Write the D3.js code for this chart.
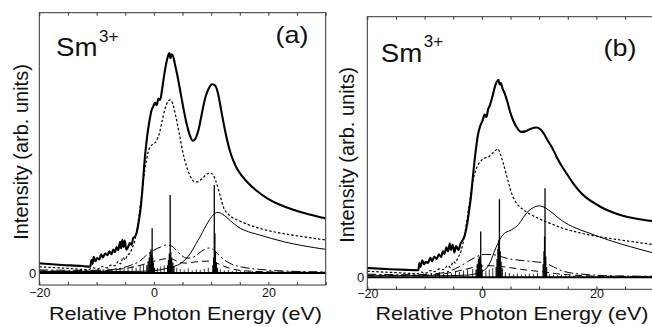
<!DOCTYPE html>
<html><head><meta charset="utf-8">
<script src="https://cdn.jsdelivr.net/npm/d3@7"></script>
<style>
html,body{margin:0;padding:0;background:#fff;}
svg{display:block;}
text{font-family:"Liberation Sans",Arial,Helvetica,sans-serif;fill:#111;}
</style></head>
<body>
<svg id="chart" width="652" height="327"></svg>
<script>
// ---------- data (energy in eV, intensity in arbitrary units) ----------
const xTicks = [-20,-15,-10,-5,0,5,10,15,20,25,30];
const xTickLabels = [-20, 0, 20];
const yTickLabels = [0];
const panelLabels = ["(a)", "(b)"];
const ionLabel = "Sm";
const ionCharge = "3+";
const xTitle = "Relative Photon Energy (eV)";
const yTitle = "Intensity (arb. units)";

const aTotal = [[-20,0.037],[-16,0.031],[-12.5,0.027],[-11.1,0.024],[-10.9,0.05],[-10.7,0.035],[-10.5,0.062],[-10.2,0.045],[-9.9,0.058],[-9.5,0.052],[-9.2,0.072],[-8.9,0.06],[-8.5,0.075],[-8.1,0.068],[-7.8,0.083],[-7.4,0.072],[-7.1,0.09],[-6.8,0.08],[-6.5,0.1],[-6.2,0.088],[-5.9,0.12],[-5.7,0.095],[-5.5,0.128],[-5.3,0.1],[-5.1,0.125],[-4.8,0.09],[-4.5,0.1],[-4.2,0.115],[-3.9,0.108],[-3.6,0.135],[-3.3,0.14],[-3.0,0.155],[-2.7,0.19],[-2.3,0.25],[-2.0,0.32],[-1.7,0.41],[-1.2,0.52],[-0.8,0.58],[-0.4,0.625],[-0.1,0.64],[0.2,0.655],[0.5,0.645],[0.8,0.67],[1.1,0.665],[1.4,0.7],[1.8,0.76],[2.2,0.81],[2.5,0.835],[2.7,0.845],[2.9,0.825],[3.1,0.84],[3.4,0.83],[3.7,0.8],[4.1,0.76],[4.6,0.7],[5.1,0.64],[5.7,0.575],[6.3,0.528],[6.8,0.508],[7.3,0.518],[7.8,0.55],[8.4,0.615],[9.0,0.675],[9.6,0.71],[10.2,0.725],[10.7,0.72],[11.2,0.69],[11.8,0.62],[12.5,0.54],[13.4,0.46],[14.3,0.41],[15.3,0.375],[16.5,0.345],[18,0.315],[19.8,0.287],[22,0.262],[24.5,0.242],[27,0.226],[30,0.21]];
const aDotted = [[-20,0.024],[-15,0.018],[-11.5,0.013],[-10.5,0.02],[-9.8,0.015],[-9,0.025],[-8.2,0.02],[-7.5,0.03],[-6.8,0.028],[-6.2,0.045],[-5.8,0.035],[-5.4,0.06],[-5.0,0.05],[-4.6,0.07],[-4.2,0.075],[-3.8,0.095],[-3.4,0.12],[-3.0,0.16],[-2.6,0.22],[-2.2,0.29],[-1.8,0.36],[-1.4,0.42],[-1.0,0.465],[-0.6,0.485],[-0.2,0.495],[0.2,0.5],[0.6,0.515],[1.0,0.54],[1.5,0.59],[2.0,0.635],[2.5,0.66],[2.9,0.665],[3.3,0.65],[3.8,0.605],[4.4,0.54],[5.0,0.47],[5.7,0.41],[6.4,0.37],[7.0,0.352],[7.6,0.35],[8.3,0.36],[9.0,0.375],[9.8,0.385],[10.4,0.375],[10.8,0.355],[11.6,0.295],[12.2,0.25],[13.2,0.222],[15,0.2],[17.5,0.178],[20,0.163],[23,0.15],[26.5,0.138],[30,0.127]];
const aThin = [[-20,0.006],[-10,0.006],[-4,0.006],[0,0.009],[2.3,0.018],[3.6,0.026],[4.7,0.037],[5.5,0.052],[6.4,0.076],[7.3,0.11],[8.1,0.14],[8.8,0.17],[9.5,0.197],[10.3,0.222],[11.2,0.233],[12,0.226],[12.8,0.212],[13.4,0.2],[15.1,0.172],[17,0.155],[18.5,0.146],[20.5,0.133],[22.7,0.12],[26,0.105],[30,0.091]];
const aDashDot = [[-20,0.012],[-12,0.01],[-8,0.012],[-5.5,0.02],[-4,0.03],[-2.5,0.045],[-1.2,0.07],[0,0.088],[1.2,0.1],[2.2,0.108],[3.0,0.105],[3.8,0.09],[4.8,0.068],[5.8,0.057],[6.8,0.06],[7.8,0.075],[8.8,0.09],[9.6,0.096],[10.4,0.09],[11.3,0.07],[12.2,0.052],[13.5,0.035],[15.1,0.024],[17.5,0.016],[20,0.011],[25,0.006],[30,0.004]];
const aDash = [[-20,0.008],[-12,0.007],[-8,0.01],[-5,0.018],[-3,0.026],[-1.5,0.035],[0,0.045],[1.5,0.053],[2.6,0.056],[3.6,0.05],[4.6,0.04],[5.8,0.038],[7,0.042],[8.4,0.045],[9.8,0.046],[10.8,0.04],[11.8,0.03],[13,0.02],[14.5,0.012],[17,0.007],[22,0.004],[30,0.003]];
const aSticks = [[-1.2,0.03],[-1.0,0.045],[-0.8,0.06],[-0.65,0.08],[-0.5,0.09],[-0.4,0.07],[-0.3,0.172],[-0.2,0.06],[-0.1,0.04],[0.1,0.02],[2.4,0.03],[2.55,0.05],[2.7,0.075],[2.85,0.3],[2.95,0.08],[3.1,0.06],[3.3,0.04],[3.5,0.025],[10.3,0.03],[10.45,0.06],[10.55,0.338],[10.65,0.153],[10.75,0.08],[10.9,0.04],[11.1,0.02]];
const aNoise = [[-10.8,0.012],[-10.1,0.008],[-9.4,0.015],[-8.7,0.01],[-8.0,0.018],[-7.3,0.012],[-6.6,0.02],[-5.9,0.015],[-5.2,0.022],[-4.5,0.018],[-3.8,0.025],[-3.1,0.02],[-2.4,0.028],[-1.8,0.03],[0.6,0.02],[1.2,0.025],[1.8,0.03],[4.0,0.02],[4.6,0.015],[5.3,0.012],[6.0,0.018],[6.7,0.01],[7.4,0.014],[8.1,0.012],[8.8,0.016],[9.5,0.02],[11.6,0.015],[12.3,0.01],[13.0,0.012],[13.7,0.008],[14.4,0.01],[15.1,0.007],[15.8,0.009],[16.5,0.006],[17.2,0.008],[18.0,0.005],[19.0,0.007],[20.0,0.005],[21.0,0.006],[22.0,0.004],[23.5,0.005],[25,0.004]];

const bTotal = [[-20,0.036],[-16,0.031],[-12.5,0.028],[-11.1,0.027],[-10.9,0.055],[-10.7,0.04],[-10.4,0.065],[-10.1,0.05],[-9.8,0.06],[-9.4,0.055],[-9.0,0.075],[-8.7,0.062],[-8.3,0.08],[-7.9,0.07],[-7.5,0.088],[-7.1,0.078],[-6.8,0.1],[-6.5,0.09],[-6.2,0.115],[-5.9,0.1],[-5.6,0.13],[-5.4,0.105],[-5.1,0.125],[-4.8,0.095],[-4.5,0.12],[-4.1,0.105],[-3.7,0.13],[-3.3,0.145],[-3.0,0.16],[-2.6,0.2],[-2.2,0.26],[-1.9,0.31],[-1.5,0.4],[-1.1,0.48],[-0.7,0.545],[-0.3,0.58],[0.1,0.6],[0.5,0.625],[0.8,0.615],[1.1,0.645],[1.4,0.66],[1.8,0.69],[2.2,0.725],[2.6,0.75],[2.9,0.758],[3.1,0.74],[3.3,0.745],[3.6,0.725],[4.0,0.705],[4.5,0.67],[5.0,0.63],[5.6,0.595],[6.2,0.572],[6.9,0.558],[7.6,0.56],[8.4,0.568],[9.1,0.574],[9.6,0.575],[10.2,0.568],[10.8,0.552],[11.5,0.525],[12.2,0.5],[13.1,0.46],[14,0.425],[15.2,0.385],[16.3,0.35],[17.5,0.32],[18.7,0.298],[20,0.28],[21.1,0.266],[22.8,0.25],[24.6,0.236],[27,0.225],[30,0.215]];
const bDotted = [[-20,0.023],[-15,0.018],[-11.2,0.014],[-10.5,0.02],[-9.8,0.016],[-9,0.026],[-8.2,0.022],[-7.4,0.032],[-6.6,0.03],[-6,0.045],[-5.5,0.038],[-5.0,0.06],[-4.6,0.055],[-4.2,0.075],[-3.8,0.09],[-3.4,0.12],[-3.0,0.165],[-2.6,0.22],[-2.2,0.28],[-1.8,0.34],[-1.4,0.385],[-1.0,0.415],[-0.5,0.438],[0,0.45],[0.4,0.457],[0.8,0.46],[1.2,0.462],[1.6,0.47],[1.9,0.477],[2.3,0.485],[2.8,0.493],[3.2,0.475],[3.7,0.44],[4.2,0.4],[4.7,0.36],[5.2,0.322],[5.8,0.293],[6.4,0.275],[7.2,0.26],[8.1,0.246],[9.5,0.23],[11,0.215],[12.5,0.202],[14,0.189],[16.3,0.175],[18.7,0.163],[21.5,0.152],[24.6,0.142],[27.5,0.133],[30,0.125]];
const bThin = [[-20,0.006],[-8,0.006],[-3,0.008],[-1,0.014],[0,0.022],[1.0,0.04],[1.6,0.065],[2.2,0.1],[2.8,0.13],[3.4,0.155],[4.0,0.17],[4.8,0.178],[5.6,0.188],[6.4,0.203],[7.2,0.228],[7.9,0.249],[8.6,0.262],[9.3,0.271],[10.0,0.274],[10.5,0.272],[11.2,0.265],[12,0.252],[12.7,0.24],[13.4,0.227],[14.5,0.21],[15.8,0.195],[17.2,0.182],[18.7,0.17],[20.5,0.155],[22.8,0.138],[26,0.117],[30,0.093]];
const bDashDot = [[-20,0.012],[-12,0.01],[-8,0.014],[-5.5,0.025],[-4,0.04],[-2.5,0.06],[-1.3,0.075],[-0.3,0.085],[0.6,0.088],[1.6,0.087],[2.6,0.085],[3.6,0.078],[4.5,0.072],[6,0.067],[8,0.062],[9.5,0.059],[11,0.055],[12.5,0.04],[14,0.025],[15.2,0.018],[17,0.013],[18.7,0.01],[22,0.006],[30,0.004]];
const bDash = [[-20,0.008],[-12,0.007],[-8,0.01],[-5,0.02],[-3,0.03],[-1.5,0.038],[0,0.043],[1,0.045],[2,0.044],[3.2,0.042],[5,0.037],[7,0.03],[9,0.025],[11,0.02],[13,0.014],[15,0.01],[18,0.006],[22,0.004],[30,0.003]];
const bSticks = [[-1.0,0.03],[-0.8,0.05],[-0.6,0.07],[-0.45,0.08],[-0.3,0.06],[-0.2,0.176],[-0.1,0.05],[0.05,0.03],[2.5,0.04],[2.65,0.07],[2.8,0.11],[2.95,0.144],[3.07,0.3],[3.2,0.1],[3.35,0.06],[3.55,0.035],[10.7,0.05],[10.85,0.1],[10.95,0.157],[11.03,0.342],[11.15,0.08],[11.3,0.04]];
const bNoise = [[-10.9,0.01],[-10.2,0.014],[-9.5,0.009],[-8.8,0.016],[-8.1,0.012],[-7.4,0.02],[-6.7,0.014],[-6.0,0.022],[-5.3,0.016],[-4.6,0.024],[-3.9,0.02],[-3.2,0.026],[-2.5,0.03],[-1.6,0.032],[0.7,0.025],[1.3,0.03],[1.9,0.035],[4.1,0.02],[4.8,0.016],[5.5,0.012],[6.2,0.015],[6.9,0.01],[7.6,0.012],[8.3,0.014],[9.0,0.012],[9.7,0.018],[11.8,0.012],[12.5,0.01],[13.2,0.008],[13.9,0.01],[14.6,0.007],[15.3,0.008],[16.0,0.006],[16.8,0.007],[17.6,0.005],[18.5,0.006],[19.5,0.005],[20.5,0.004],[22,0.005],[24,0.004]];

// ---------- layout ----------
const panels = [
  {id:"a", left:39.3, right:325.7, top:12.7, bottom:285, label:panelLabels[0],
   total:aTotal, dotted:aDotted, thin:aThin, dashdot:aDashDot, dash:aDash, sticks:aSticks, noise:aNoise,
   ion:{x:56, y:56}, tag:{x:275.5, y:42.5}, ytitle:{x:28, y:152}, xtitleX:185.5, tickPad:3},
  {id:"b", left:367.3, right:653.7, top:16.7, bottom:289.3, label:panelLabels[1],
   total:bTotal, dotted:bDotted, thin:bThin, dashdot:bDashDot, dash:bDash, sticks:bSticks, noise:bNoise,
   ion:{x:380.7, y:61.7}, tag:{x:603.5, y:55.5}, ytitle:{x:354.3, y:155}, xtitleX:512, tickPad:0}
];

const svg = d3.select("#chart");

panels.forEach((p, i) => {
  const x = d3.scaleLinear().domain([-20, 30]).range([p.left, p.right]);
  const y = d3.scaleLinear().domain([-0.046, 1]).range([p.bottom, p.top]);
  const g = svg.append("g");

  const clipId = "clip-" + p.id;
  g.append("clipPath").attr("id", clipId).append("rect")
    .attr("x", p.left).attr("y", p.top).attr("width", p.right - p.left).attr("height", p.bottom - p.top);

  const plot = g.append("g").attr("clip-path", `url(#${clipId})`);

  // zero line
  plot.append("line").attr("x1", x(-20)).attr("x2", x(30)).attr("y1", y(0)).attr("y2", y(0))
    .attr("stroke", "#000").attr("stroke-width", 2);

  // baseline noise
  plot.append("g").selectAll("line").data(p.noise).join("line")
    .attr("x1", d => x(d[0])).attr("x2", d => x(d[0]))
    .attr("y1", y(0)).attr("y2", d => y(d[1]))
    .attr("stroke", "#000").attr("stroke-width", 0.8);

  // stick spectrum
  plot.append("g").selectAll("line").data(p.sticks).join("line")
    .attr("x1", d => x(d[0])).attr("x2", d => x(d[0]))
    .attr("y1", y(0)).attr("y2", d => y(d[1]))
    .attr("stroke", "#000").attr("stroke-width", 1.3);

  const line = d3.line().x(d => x(d[0])).y(d => y(d[1])).curve(d3.curveMonotoneX);
  const styles = [
    {data:p.dash,    w:1,   dash:"7,4"},
    {data:p.dashdot, w:1,   dash:"9,3,2,3"},
    {data:p.thin,    w:1,   dash:null},
    {data:p.dotted,  w:1.2, dash:"2.5,2"},
    {data:p.total,   w:2.1, dash:null}
  ];
  styles.forEach(s => {
    plot.append("path").datum(s.data).attr("d", line)
      .attr("fill", "none").attr("stroke", "#000").attr("stroke-width", s.w)
      .attr("stroke-linejoin", "round")
      .attr("stroke-dasharray", s.dash);
  });

  // frame
  g.append("rect").attr("x", p.left).attr("y", p.top)
    .attr("width", p.right - p.left).attr("height", p.bottom - p.top)
    .attr("fill", "none").attr("stroke", "#333").attr("stroke-width", 1);

  // bottom axis
  const fmt = d => xTickLabels.includes(d) ? d3.format("d")(d) : "";
  const bx = g.append("g").attr("transform", `translate(0,${p.bottom})`)
    .call(d3.axisBottom(x).tickValues(xTicks).tickSize(-3).tickPadding(p.tickPad).tickFormat(fmt));
  bx.select(".domain").remove();
  bx.selectAll("line").attr("stroke", "#333");
  bx.selectAll("text").attr("font-size", 12.5).attr("fill", "#111")
    .style("font-family", '"Liberation Sans",Arial,sans-serif');

  const tx = g.append("g").attr("transform", `translate(0,${p.top})`)
    .call(d3.axisTop(x).tickValues(xTicks).tickSize(-3).tickFormat(""));
  tx.select(".domain").remove();
  tx.selectAll("line").attr("stroke", "#333");

  // left axis (only zero)
  const ly = g.append("g").attr("transform", `translate(${p.left},0)`)
    .call(d3.axisLeft(y).tickValues(yTickLabels).tickSize(0).tickPadding(3).tickFormat(d3.format("d")));
  ly.select(".domain").remove();
  ly.selectAll("text").attr("font-size", 13).attr("fill", "#111")
    .style("font-family", '"Liberation Sans",Arial,sans-serif');

  // axis titles
  g.append("text").attr("x", p.xtitleX).attr("y", 319.5)
    .attr("text-anchor", "middle").attr("font-size", 19)
    .attr("textLength", 273).attr("lengthAdjust", "spacingAndGlyphs")
    .text(xTitle);

  g.append("text").attr("transform", `translate(${p.ytitle.x},${p.ytitle.y}) rotate(-90)`)
    .attr("text-anchor", "middle").attr("font-size", 20)
    .text(yTitle);

  // ion label
  const ion = g.append("text").attr("x", p.ion.x).attr("y", p.ion.y).attr("font-size", 25);
  ion.append("tspan").text(ionLabel).attr("textLength", 41.5).attr("lengthAdjust", "spacingAndGlyphs");
  ion.append("tspan").attr("font-size", 17).attr("dy", -14.3).attr("dx", 1.5).text(ionCharge);

  // panel tag
  g.append("text").attr("x", p.tag.x).attr("y", p.tag.y).attr("font-size", 24)
    .attr("textLength", 33).attr("lengthAdjust", "spacingAndGlyphs")
    .text(p.label);
});
</script>
</body></html>
